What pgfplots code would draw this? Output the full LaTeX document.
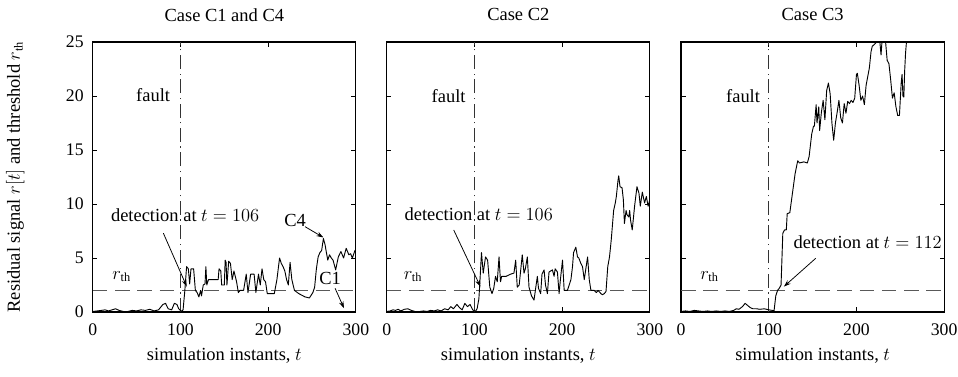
\documentclass[border=0pt]{standalone}
\usepackage{fontspec}
\setmainfont{Liberation Serif}
\usepackage{pgfplots}
\pgfplotsset{compat=1.18}
\usepackage{pgfplotstable}
\usetikzlibrary{arrows.meta}

\pgfplotstableread{
t v
0 0.05
5 0.1
10 0.15
14 0.2
18 0.1
22 0.2
26 0.3
30 0.15
35 0.05
40 0.05
45 0.15
50 0.1
55 0.2
60 0.15
65 0.25
70 0.1
75 0.2
80 0.7
83 0.8
86 0.3
90 0.2
93 0.8
96 0.7
98 0.3
101 0.05
103 0.2
105 2.0
107 4.2
109 4.0
110.5 2.6
112 4.0
115 4.0
117 2.0
119 1.8
121 1.4
123 2.0
124 1.5
126 2.5
128 2.6
129 4.2
130 2.5
132 3.0
143 3.0
144 4.0
146 3.8
147 2.5
150 2.5
151 4.8
152 4.6
153 2.5
155 4.7
157 4.5
159 3.0
161 3.8
164 2.8
166 1.8
168 2.0
172 2.0
175 3.5
177 1.8
180 3.5
184 3.5
186 1.8
189 3.5
191 2.5
193 4.0
195 3.0
197 2.8
199 1.7
207 1.7
210 3.0
213 5.0
215 4.5
217 4.2
219 3.8
221 3.0
223 2.5
225 4.6
227 3.0
230 2.0
235 1.7
242 1.4
247 1.3
251 1.8
253 2.3
255 4.0
257 5.1
259 5.5
261 5.7
263 6.8
265 6.2
266 5.7
268 4.8
270 5.3
272 5.0
274 4.8
277 3.9
280 5.1
283 5.6
286 5.0
289 5.9
292 5.3
294 5.4
296 5.0
299 5.7
300 5.6
}\dataCfour

\pgfplotstableread{
t v
250 0
300 0
}\dataCone

\pgfplotstableread{
t v
0 0.05
4 0.1
7 0.2
10 0.15
13 0.25
16 0.1
20 0.25
24 0.3
28 0.15
32 0.05
38 0.05
42 0.1
46 0.05
50 0.15
54 0.1
58 0.2
62 0.1
66 0.3
70 0.2
73 0.5
76 0.3
80 0.7
83 0.4
86 0.2
89 0.8
92 0.5
95 0.7
98 0.2
101 0.05
103 0.3
105 1.2
106 2.5
108 5.5
110 3.6
112.6 5.1
115 4.8
117.5 2.3
120 1.7
122 2.2
124 3.3
126 2.8
128 5.1
129.7 2.8
131 3.3
136 3.3
141 3.5
145 3.6
147 4.8
148.8 2.3
151 2.5
154.5 5.3
156.5 3.6
158 4.0
160.3 5.1
162.2 2.3
165 1.5
167.9 1.1
171.7 3.3
173 2.2
175.5 1.7
177 3.5
179.4 3.9
181 2.5
183.2 1.7
185 3.7
188.9 3.9
190.8 3.3
192 4.0
194.6 3.7
196.5 1.7
198 3.0
200.4 4.8
202.3 2.0
206 2.0
210 3.0
211.8 4.2
213 5.5
215.6 6.0
217.5 5.1
219 5.0
221.3 4.5
223.2 4.2
225.2 3.0
227 4.0
229 5.1
230.9 3.0
232.8 2.0
236.6 2.0
239 1.8
241 2.0
244.2 1.7
246 1.6
248 1.7
250 1.9
252 4.2
254 5.1
256 6.7
258.7 9.4
260.6 10.1
261.8 10.7
263.7 12.2
264.5 12.6
266 11.6
268.3 11.5
269.8 10.4
271 8.2
272.9 9.4
274 9.0
276 8.8
277 9.4
278 8.5
279.9 7.6
282.6 9.8
285.3 11.6
287.6 11.0
289.1 9.8
291.4 11.1
294 10.1
296 10.7
298 9.8
300 10.4
}\dataCtwo

\pgfplotstableread{
t v
0 0.05
5 0.1
10 0.05
15 0.15
20 0.1
25 0.05
30 0.1
35 0.05
40 0.1
45 0.05
50 0.1
55 0.05
60 0.15
63 0.3
66 0.25
70 0.5
73 0.8
76 0.6
79 0.4
82 0.3
86 0.3
90 0.25
95 0.3
100 0.2
104 0.15
106 0.1
108 1.5
110 2.0
112 2.2
114 2.5
116 7.3
118 7.6
120 7.6
121 9.1
124 9.2
126 10.4
128 11.6
130 12.8
132 13.6
133 14.0
135 13.8
140 13.9
144 13.8
146 14.4
149 16.5
151 17.2
152 17.2
154 19.2
155 17.5
157 19.0
158 16.8
160 18.5
162 19.6
164 17.8
166 20.5
168 21.2
170 20.2
172 17.5
174 15.9
176 17.5
178 18.5
180 19.6
182 18.0
184 17.5
186 19.3
188 18.4
190 19.5
192 19.3
194 19.6
196 19.4
198 19.8
200 22.0
201 22.1
203 21.0
205 19.6
207 20.0
209 19.2
211 21.0
214.7 22.6
216.6 24.1
218 24.6
222 24.9
225 25.2
226 25.6
228 23.8
229.5 25.5
231 25.8
233 25.2
235 23.3
237 23.0
239 21.5
241 19.8
243 20.3
245 19.0
247 18.2
249 18.2
251 21.2
252 22.0
253 20.0
254 19.9
255 22.4
256 24.0
257.5 25.5
260 30
}\dataCthree

\newcommand{\lbl}{\fontsize{12}{14}\selectfont}
\tikzset{
  arr/.style={black, line width=0.5pt, -{Stealth[length=4.5pt,width=3pt]}},
}
\pgfplotsset{panel/.style={
  scale only axis, width=171pt, height=175.5pt,
  xmin=0, xmax=300, ymin=0, ymax=25,
  xtick={0,100,200,300}, ytick={0,5,10,15,20,25},
  tick align=inside, major tick length=3pt,
  tick style={black, line width=0.5pt},
  axis line style={line width=0.8pt},
  /pgf/number format/assume math mode=true,
  tick label style={font=\fontsize{11.5}{13}\selectfont},
  xticklabel style={yshift=-4pt},
  yticklabel style={xshift=-2.4pt},
  title style={at={(axis description cs:0.5,1.066)}, anchor=center, font=\lbl},
  xlabel style={at={(axis description cs:0.5,-0.16)}, anchor=center, font=\lbl},
  xlabel={simulation instants, $t$},
},
curve/.style={black, line width=0.6pt, line join=round},
faultline/.style={black!80, line width=0.6pt, dash pattern=on 9pt off 3pt on 0.8pt off 3pt},
thr/.style={black!65, line width=0.7pt, dash pattern=on 9.5pt off 5pt},
}

\begin{document}
\begin{tikzpicture}[every node/.append style={font=\lbl}]
% Panel 1
\begin{axis}[panel, at={(0pt,0pt)}, title={Case C1 and C4},
  ylabel={Residual signal $r[t]$ and threshold $r_{\mathrm{th}}$},
  ylabel style={at={(axis description cs:-0.295,0.5)}, anchor=center, font=\lbl}]
\addplot[thr] coordinates {(0,2) (300,2)};
\addplot[faultline] coordinates {(100,0) (100,25)};
\addplot[curve] table[x=t,y=v] {\dataCfour};
\addplot[curve] table[x=t,y=v] {\dataCone};
\node at (axis cs:68.8,20.1) {fault};
\node at (axis cs:105.3,9.0) {detection at $t = 106$};
\draw[arr] (axis cs:80.5,7.3) -- (axis cs:107.2,2.35);
\node at (axis cs:33,3.27) {$r_{\mathrm{th}}$};
\node at (axis cs:230.7,8.5) {C4};
\draw[arr] (axis cs:242.1,7.9) -- (axis cs:263,6.9);
\node at (axis cs:270.6,3.1) {C1};
\draw[arr] (axis cs:276.3,2.2) -- (axis cs:286.5,0.35);
\end{axis}
% Panel 2
\begin{axis}[panel, at={(191.1pt,0pt)}, title={Case C2}, yticklabels={}]
\addplot[thr] coordinates {(0,2) (300,2)};
\addplot[faultline] coordinates {(100,0) (100,25)};
\addplot[curve] table[x=t,y=v] {\dataCtwo};
\node at (axis cs:70.5,20) {fault};
\node at (axis cs:104.9,9.1) {detection at $t = 106$};
\draw[arr] (axis cs:76.3,7.6) -- (axis cs:106.8,2.35);
\node at (axis cs:30,3.27) {$r_{\mathrm{th}}$};
\end{axis}
% Panel 3
\begin{axis}[panel, at={(382.4pt,0pt)}, title={Case C3}, yticklabels={}]
\addplot[thr] coordinates {(0,2) (300,2)};
\addplot[faultline] coordinates {(100,0) (100,25)};
\addplot[curve] table[x=t,y=v] {\dataCthree};
\node at (axis cs:70.7,20) {fault};
\node at (axis cs:212.7,6.5) {detection at $t = 112$};
\draw[arr] (axis cs:153.5,4.97) -- (axis cs:117.2,2.35);
\node at (axis cs:32.4,3.27) {$r_{\mathrm{th}}$};
\end{axis}
\pgfresetboundingbox
\path[use as bounding box] (-60.3pt,-41.6pt) rectangle (562.4pt,202.8pt);
\end{tikzpicture}
\end{document}
